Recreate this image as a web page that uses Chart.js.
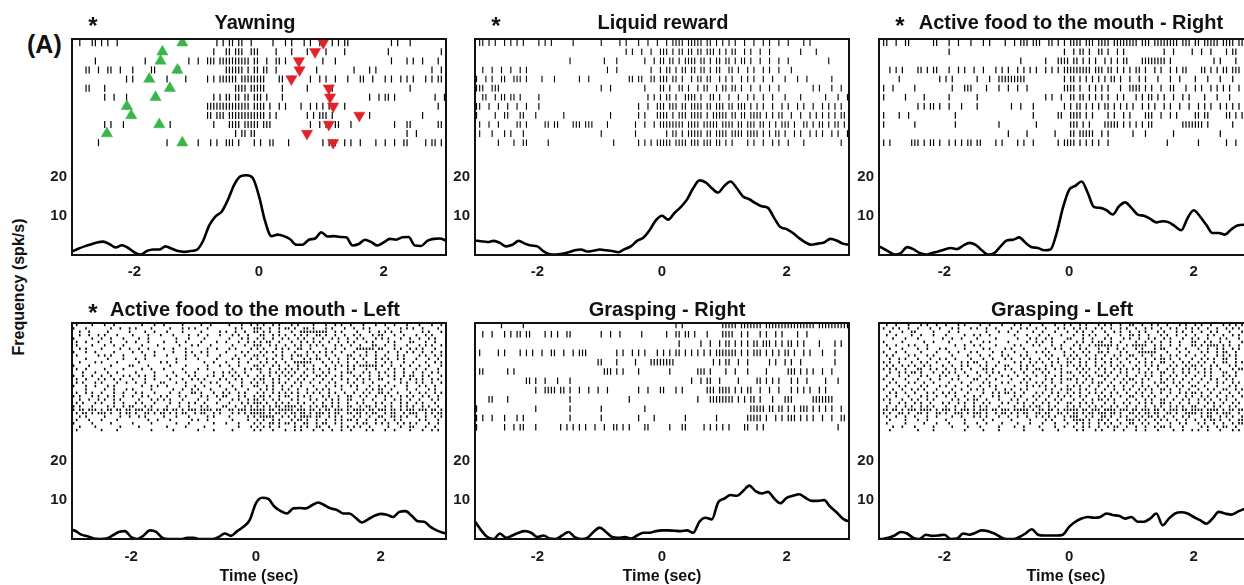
<!DOCTYPE html>
<html>
<head>
<meta charset="utf-8">
<script src="https://cdn.jsdelivr.net/npm/chart.js@4.4.1/dist/chart.umd.min.js"></script>
<style>
  html, body { margin: 0; padding: 0; background: #fff; width: 1244px; height: 585px; overflow: hidden; }
  #fig { position: relative; width: 1244px; height: 585px; overflow: hidden;
         font-family: "Liberation Sans", Arial, sans-serif; color: #111; }
  .panel { position: absolute; }
  .lbl { position: absolute; font-weight: bold; white-space: nowrap; }
</style>
</head>
<body>
<div id="fig">
  <div class="lbl" style="left:27px;top:32px;font-size:25px;line-height:25px;">(A)</div>
  <div class="lbl" style="left:-81px;top:277px;width:200px;height:20px;line-height:20px;font-size:16px;text-align:center;transform:rotate(-90deg);">Frequency (spk/s)</div>
</div>
<script>
// ---- data ----
const panelTitles = ['Yawning', 'Liquid reward', 'Active food to the mouth - Right',
                     'Active food to the mouth - Left', 'Grasping - Right', 'Grasping - Left'];
const panelStars = [true, true, true, true, false, false];
const xTickValues = [-2, 0, 2];
const yTickValues = [10, 20];

// PSTH sample times (s)
const rateTimes = [-3.1, -3.0, -2.9, -2.8, -2.7, -2.6, -2.5, -2.4, -2.3, -2.2, -2.1,
  -2.0, -1.9, -1.8, -1.7, -1.6, -1.5, -1.4, -1.3, -1.2, -1.1,
  -1.0, -0.9, -0.8, -0.7, -0.6, -0.5, -0.4, -0.3, -0.2, -0.1,
  0.0, 0.1, 0.2, 0.3, 0.4, 0.5, 0.6, 0.7, 0.8, 0.9,
  1.0, 1.1, 1.2, 1.3, 1.4, 1.5, 1.6, 1.7, 1.8, 1.9,
  2.0, 2.1, 2.2, 2.3, 2.4, 2.5, 2.6, 2.7, 2.8, 2.9, 3.0, 3.1];

// firing rate (spk/s)
const yawnRate = [0.6, 0.9, 1.6, 2.2, 2.7, 3.2, 3.4, 2.8, 1.9, 2.5, 1.8,
  0.7, 0.1, 1.0, 1.4, 1.4, 2.2, 1.6, 1.0, 0.8, 1.0,
  1.3, 3.5, 7.5, 9.8, 11.0, 14.0, 17.8, 20.0, 20.3, 19.6,
  15.0, 8.5, 4.8, 5.2, 4.8, 4.0, 2.6, 2.6, 3.9, 4.2,
  5.8, 4.7, 4.8, 4.6, 4.5, 2.4, 2.8, 3.9, 3.3, 2.4,
  3.2, 4.1, 3.9, 4.5, 4.6, 2.4, 2.3, 3.6, 4.1, 4.2, 3.7, 3.5];
const liquidRate = [3.8, 3.7, 3.5, 3.3, 3.6, 3.1, 2.2, 2.6, 3.6, 2.9, 2.4,
  2.2, 0.9, 0.2, 0.1, 0.3, 0.7, 1.2, 1.4, 0.9, 1.1,
  1.4, 1.2, 1.0, 0.7, 1.5, 2.2, 3.6, 4.4, 6.3, 8.8,
  10.0, 9.0, 10.7, 12.2, 14.1, 17.0, 19.0, 18.5, 17.0, 15.9,
  17.6, 18.7, 17.0, 14.9, 14.2, 13.2, 12.4, 12.0, 9.4, 7.1,
  6.6, 5.6, 4.3, 3.2, 2.6, 2.9, 3.2, 4.1, 3.7, 2.9, 2.6, 2.4];
const activeRRate = [2.6, 1.8, 0.9, 0.1, 0.5, 2.0, 1.5, 0.5, 0.1, 0.5, 0.9,
  1.4, 1.8, 1.5, 2.4, 3.1, 2.6, 1.2, 0.1, 0.5, 2.2,
  3.7, 3.9, 4.5, 3.1, 2.0, 1.8, 1.2, 1.4, 5.6, 12.0,
  16.6, 17.6, 18.7, 15.8, 12.2, 12.0, 11.4, 10.3, 12.4, 13.4,
  12.0, 10.3, 10.0, 9.2, 8.3, 8.6, 8.3, 7.3, 6.3, 9.4,
  11.4, 9.8, 7.7, 5.6, 5.6, 5.2, 6.5, 7.5, 7.7, 7.4, 7.2, 7.0];
const activeLRate = [2.8, 2.5, 2.1, 1.1, 0.7, 0.1, 0.0, 0.1, 0.9, 1.8, 2.0,
  0.5, 0.0, 0.9, 2.2, 1.8, 0.3, 0.0, 0.0, 0.0, 0.3,
  0.3, 0.0, 0.0, 0.0, 0.5, 1.4, 0.8, 2.0, 3.1, 4.8,
  9.1, 10.5, 10.2, 8.2, 7.1, 6.5, 7.8, 7.9, 7.8, 8.6,
  9.3, 8.6, 7.8, 7.4, 6.5, 6.5, 5.4, 4.2, 5.0, 5.9,
  6.4, 6.2, 5.6, 6.9, 7.1, 5.9, 4.5, 4.4, 3.1, 2.2, 1.6, 1.3];
const graspRRate = [5.5, 4.4, 2.2, 0.5, 0.0, 1.4, 0.3, 0.9, 1.6, 2.0, 1.6,
  0.5, 0.9, 0.1, 0.0, 0.9, 1.8, 0.5, 0.0, 0.3, 1.8,
  2.9, 1.8, 0.5, 0.3, 0.5, 0.1, 0.9, 1.6, 1.6, 2.0,
  2.2, 2.2, 2.1, 2.0, 2.2, 1.6, 4.4, 5.4, 5.0, 9.3,
  10.3, 11.2, 11.0, 12.2, 13.6, 12.2, 11.6, 12.0, 10.3, 9.1,
  10.5, 11.0, 11.4, 10.5, 9.7, 9.7, 9.9, 8.2, 6.8, 5.2, 4.5, 4.4];
const graspLRate = [0.0, 0.0, 0.3, 0.9, 1.8, 1.4, 0.3, 0.0, 1.1, 0.8, 0.9,
  1.1, 0.0, 0.1, 1.4, 1.1, 1.6, 2.2, 2.0, 1.4, 0.5,
  0.0, 0.0, 0.5, 1.4, 2.5, 1.1, 0.9, 0.9, 0.9, 1.1,
  3.1, 4.4, 5.2, 5.6, 5.4, 5.6, 6.5, 6.1, 5.9, 5.2,
  5.6, 4.4, 4.4, 5.2, 6.5, 3.5, 5.2, 6.5, 6.8, 6.5,
  5.6, 4.8, 3.9, 5.2, 6.9, 6.5, 6.2, 6.9, 7.6, 7.8, 7.5, 7.4];

// rasters: one string per trial, 50 ms bins from -3 s, groups of 10 bins, '|' = spike
const rasterStart = -3, binSec = 0.05;
const yawnRaster = [
  "..|...||.| .|..|..... .......... .......... ......|.|. ||.||..|.. ....|...|. |...|.|..| ...|.|.||. .......... ..|.|...|. ..........",
  ".......... .......... .......... .......... .....|...| |.|||..||| .....|.... |....|.... .|.....|.. .......... .|........ ........|.",
  ".......|.. .......... ...|...... .......|.. |..|||.||| |||||||.|| ..|..||.|. .......... |...|..... .......... ..|....|.| ..|....|..",
  "....||..|. .||..|...| .....||... ...||..... .........| |||||.|.|| .||..|.... ........|. .......... |....|.|.. .......... .....|..|.",
  ".......... .......|.| .......... |.....|... ...|.|.||| |||.|||||| ||....||.. |.....|..| .|..|...|. ..||..|... |.|..|.|.| ...|.|.||.",
  "....||.... |......... .......... .......... .......... ..||||.||| ||.....|.. .....|.... ...|...... .......... ........|. ..........",
  ".......... |..|...|.. .......... .......... .....|.|.| |.||.||.|| |.|....|.. .......... .......... .....|..|. ||.|...... ......|..|",
  ".......... .......|.. .......... .......... ...||||||| |||||||.|| ||.|..|.|. ...|..|.|. |.||...|.. .......... .......... .......|..",
  ".......... .......... .......... .......... ...||.|||. |||||||||| ||.|.|.... .....|.|.| ||.|...... .....|.... .......... ..|.......",
  ".......... |.|...|... .......... .|........ .....|.... ||||.||||| .|||...... ......|..| .|..||...| .......... ...|...||. .......||.",
  ".......... .......... .......... .......... .......... ..|.||.||. .......... .......... .......... .......... .......|.. |.........",
  "........|. .......... .......... |......... |...|.|..| ||.|....|. |..||....| .......... |.|||..|.| ..|....|.. |..|..||.. ...|.||.|."
];
// yawning onset (green) and end (red) per trial, s
const yawnOpenTimes = [-1.23, -1.55, -1.58, -1.31, -1.76, -1.43, -1.66, -2.12, -2.05, -1.60, -2.44, -1.23];
const yawnCloseTimes = [1.03, 0.90, 0.64, 0.65, 0.52, 1.12, 1.14, 1.19, 1.61, 1.12, 0.77, 1.19];

const liquidRaster = [
  ".||.|.|..| .|.|.|.... |.|.|..... .|........ |.....|.|. ..|..|..|. .|.||||.|| |||.||.|.| .|.|..|..| ..|.|..|.. |....|.|.. ..........",
  ".......... .......... .......... .......... ........|. |..|..|..| ||.|.||.|| .||.|||.|. |.||..|.|. .|..|..... ....|....| ..........",
  ".......... .......... .......... |......... .|...|.... ....|..|.| |.||.|.||| |.||.|.||. ||.|.||.|. .|..|..|.. |......... ...|......",
  "..|..|..|. .|..|.|... .......... .......... ..|..|.... ......|..| .||.|.||.| |.||.|.||. .||.|..|.| ..|.|..|.. .|........ ..........",
  "|..|.|..|| ..|||.|... .|...|.... ...|..|... .........| |.||..||.| ||.||.|..| .||.||..|. |.|..|.|.| ..|..|...| ...|..|... ....|.....",
  "|||..|||.. .......... .......... .......... |..|...... ....|....| |.|..||.|. .|.||..|.| |.||.|..|. .|..|..|.. ........|. |...|..|..",
  "..||..|.|| .||.|..... |......... .......... .......... .....|.|.| .||.|..||| |.|..||.|. .|..|..|.| ..|..|...| ....|..... ..|...|..|",
  "||..|..|.. |..|..|... |......... .......... .......... ..|..|..|| |.|||.||.| |||.||.||| .||.|||.|. |.|..|..|. |..|.|..|. .|.|.|.|..",
  "|.....|..| |...||...| ........|. .......... ...|...... ..|.|...|| ||.|.|||.| |||.|.|||| |.||.||.|| ||.|.|.||. .|..|..|.| .|.|.|.||.",
  ".|..|..|.. ...||.|... ..||.||... .|||.|||.. ..|....... .|..|..|.| |||||||.|| ||.|||||.| |||.||.||| .||.|.|.|| |.|..||.|. ||.|.||.|.",
  ".|...|...| .|...|.... .......... .......... |......... .|........ .|.||.|.|| |||.||.||| |.||||.||| |.|.|.||.| ..|.|..|.| .|..|.|..|",
  ".......|.. ..|..||... ...|...... .......... ....|..... ..|.|.|.|| |||.||||.| ||.|||.||. |.|....|.| ..|..|.|.. |....|.... .......|.."
];
const activeRRaster = [
  "||..|..||. ......||.. .|..|...|. ..|.|....| ..|.|||.|| |..||.|.|. ||||.|||.| |||.|||||| ||.|||.||| |||||.|||. ||.|||||.| |||.||||||",
  ".......... .......... .|........ .......... .......... ........|. .|.||.|..| |.|..|.|.. .......... |..|.....| ..|..|.... |.||..|...",
  ".......... .......... .......... .......... ....|..... ..|...|||| .||.|.|.|. .|.|.|.||. ...||||||| |.|....... ......|.|. ...|......",
  "..|.|.|... .||.|.||.. .|..|.|..| ..|...|.|. |..|.|.|.| ..|.|.|.|| |||||||.|| |.||.|.|.| .||.|..|.| ..|.|.||.. ..||.|.|.| |.|||.|.||",
  ".....|.... ........|. |.|....... |...|..||| ||||||.... ........|. ||.|.|.|.| .|.||.|..| ..|.|...|. ..|..|.... |...|...|. ..|...|.|.",
  "|..|...... |......... ..|...|||. ...|...|.. |..|..|... ........|| ||.|..|.|. |.|...|..| |||.|.|..| ..||...|.. |.|..|.|.| .|..|..|..",
  "|......|.. ...|...... .|........ |......... .......... ..|.|..|.. ||.||.|.|. |.|..|.|.. .|.|.||.|. |..|..|.|. ...|...|.. .|....|...",
  ".......... .|.|.||.|. .|...|.... |......... .|..|...|. ........|. |.||.|.|.| .||.|.|.|. |..|.|.|.. |.|..|..|. .|.|.|..|. |.|.|.|.|.",
  "|....|..|. .......... ...|...... .......... ........|. ......||.. ||||.|.|.. ..|.|..|.| ....|||..| ..|.|..... ||.||..... ||.|.|.|..",
  "|......... |......... ...|...... .......|.. .........| .......... |||.|.|... .|||||.|.| .|.|.||... ......|||| |||.|..... ..|....|..",
  ".......... .......... .......... .......... |.....|... .....|.... ||.|||||.. |.|....... |...|..... ...|...... ........|. ..........",
  "|.|......| ||.|.||.|. .|.|.|.||. ||....|.|. ...|.|..|. ......|.|| ||.|.|.|.| ..|....... .......... .|........ .|........ |..|......"
];
const activeLRaster = [
  "..|....|.. .|..|..... ...|...|.. |.....|... ..|..|.... .|...|..|. |.|..|.|.. .|.|....|. ..|..|.|.. |...|...|. .|..|...|. ..|...|..|",
  ".|...|.... ...|..|..| .|....|... ..|...|.|. |...|..... ...|.|...| ||..|..|.| |.|..||.|. ..|.|...|. .|..|.|... ..|...|.|. |..|....|.",
  "|..|..|... ..|......| ....|..|.. .|....|... ..|.....|. |..|..|..| |.|.|..|.. .|..|||||| |||..|.|.. ..|...|..| .|.|..|... ...|.|...|",
  "...|..|..| .|...|.... |....|...| ...|....|. .|..|...|. ..|.|..|.. .||..|.|.| ..|.|.|..| |.|..|..|. .|.|...|.| |...|..|.. .|..|.|...",
  ".|.....|.. |..|...|.. ..|..|.... ....|...|. ...|...... .|...|.|.. |.|..|..|. |..|.|..|. .|..|.|..| ..|.|...|. |.|...|..| ..|..|.|..",
  "..|..|...| ...|....|. .|...|.... |...|..|.. ..|....|.. |...|..|.| .|.||..|.. .|..|.|.|. |..|..|..| .|...|.|.. ..|.|....| |...|..|..",
  "|.|....|.. .|..|..|.. ...|....|. .....|...| .|...|.... ..|...|..| ||..|.|..| ..|.|..|.| .|...|.|.. |..|...||. .|..|...|. ..|.|.|..|",
  "...|.|.... |.....|..| ..|..|.... |..|...|.. ....|..|.. .|.|....|. |.|...|.|. |..||..|.. ..|..|..|. ..||||||.| |...|.|..| .|.|...|..",
  ".|...|..|. ....|..... |..|...|.. ...|...|.| ..|.|..... |....|.|.. .|.|.|..|. ..|...|.|. |.|.|..|.. .|...|..|. ..|..|..|. |..|..|..|",
  "..|......| .|.|...|.. ....|..|.. .|.....|.. |...|...|. ...|..|..| |.|...|.|. .|.||.|..| ..|..|...| |..|.|..|. .|...|.|.. ..|.|..|.|",
  "|....|.... ..|....|.. .|..|..... ....|..|.. .|.....|.. ..|.|...|. |..|.|..|. .|...|.|.| |..|..|..| .|..|...|. |.|..|.|.. .|...|..|.",
  "...|....|. |....|.... ..|......| .|..|..... ...|..|... |...|..|.. .|.|..|..| ..||||||.. .|..|.|..| ..|..|..|. .|.|...|.. |...|..|.|",
  ".|....|... ...|.....| |....|.... ..|....|.. ....|...|. .|..|....| |.|..|.|.. |..|.|..|. ..|..|.|.| .|.||||||. |..|..|..| ..|..|...|",
  "..|..|.... .|.....|.. ...|..|... |.....|... .|..|..... ..|...|.|. ||..|..|.| .|.|..|.|. |..|.|...| .|...|..|. ..|.|..|.. .|..|...|.",
  "|...|...|. ..|..|.... .|.....|.. ...|...|.. |.....|..| .|.|..|... .|..|.|.|. |.|..|..|. .|.|...|.| |...|.|..| .|..|..|.. |..|..|.|.",
  ".|..|..|.. |..|...|.| ..|.|..|.. .|..|...|. |...|.|..| ..|.|..|.. |.|.|..|.| .|..|.|..| |.|..|.|.. .|.|..|..| ..|.|..|.| |..|.|...|",
  "|.|..|...| .|..|.|... |...|..|.. ..|...|..| .|.|....|. |..|.|...| .||..|.|.. |..|.|..|. .|..|..|.| ..|.|.|..| |...|.|..| .|.|..|.|.",
  "..|.|...|. |....|..|. .|..|....| |...|..|.. ..|..|.|.. .|...|..|. |.|..|.|.| ..|.|..|.. |..|.|...| .|..|..|.. ..|...|.|. .|.|..|..|",
  ".|...|..|. ..|.|..... ...|..|.|. .|.....|.. |..|....|. ..|..|...| |..|.|..|. .|..|...|. ..|..|.|.. |.|...|..| .|..|...|. ..|.|..|..",
  "|....|.... .|..|...|. |.....|... ...|..|..| .|...|.... |..|...|.. .|.|.|..|. |..|..|..| .|.|...|.. ..|..|.|.| |..|....|. .|...|.|..",
  "..|..|.|.. |...|..|.. .|.|...|.. ..|..|...| |.|...|..| .|..|.|... |.|..|.|.| .|.|..|.|. |..|.|..|. .|..|.|..| |.|..|...| ..|.|..|.|",
  ".|.|...|.| ..|.|..|.. |..|.|...| .|...|.|.. ..|.|..|.| |...|.|..| .||.|..|.| |..|.|.|.. .|.|..|..| |..|.|..|. .|.|..|.|. |..|.|..|.",
  "|..|..|..| .|..|.|... ..|...|.|. |.|...|... .|..|...|. ..|.|..|.| |.|..|.|.. .|.|...|.| ..|.|.|..| |...|..|.. .|..|.|..| ..|...|.|.",
  "..|.|...|. |...|..|.. .|.|...|.. ..|..|..|. |..|...|.. .|...|.|.| ||.|..|.|. |..|.|..|. .|..|.|..| ..|.|...|. |..|..|.|. .|.|...|..",
  ".|.|...|.. ..|.|..|.| |...|.|... .|...|..|. ..|.|....| |..|..|.|. |.|.|.||.| |||.|..|.| .||.|.|..| |..|.||.|. .|.|..|.|. |..|.|..|.",
  "||.||.|||. |.||.||.|| .|||.||.|. ||.||.|.|| |.||||.||. .||.|||.|| |||.||.||| ||.|||.||. |.||.|||.| .||||.||.| ||.||.|.|| |.|||.||.|",
  "|.|.||.|.| ||.|..|.|| .|..||.|.| |.|.|.||.. |.||..|.|. ..|.|.|.|| |||.|.||.| .||.||.|.| ||.|.||..| |.||.|.||. .|.||..|.| ||..|.|.||",
  "|..|.|.... .|....|..| ..|.|..... |...|...|. ....|.|... .|.....|.| .|||||..|. |.|.||||.| |..|.|.|.. .|.|..|..| |..||.|.|. .|..|..|.|",
  "..|...|... |....|.... .....|..|. ..|......| .|..|..... ..|....|.. |.|..|.|.. .|.||.|..| ..|..|.|.| |.|..|..|. .|..|.|... ..|.|...|.",
  ".|.....|.. ...|...... |.....|... ....|...|. ......|... |...|....| .|..||.|.| |.|..||..| .||..|.|.. ..|.||..|. |.|..|.|.| .|...|..|.",
  "...|....|. ......|... ..|....... .|.....|.. ...|...... ....|...|. |.|.|..|.. ..|.|.|..| |..|...|.| .|.|..|... ..|...|..| |...|..|..",
  "..|....... |....|.... ......|... ...|...... .|....|... ..|......| .|...|...| ..|.|...|. .|..|..|.. |....|.|.. .|..|....| ...|..|.|."
];
const graspRRaster = [
  "........|. .....|.... .......... .......... .......... .......... ....|.|... .........| ||||.||||| ||.||||||| |||||||||. ||||||||||",
  "..|..|...| .|.||.||.. ..|.|.|..| |......... |..|..|... ...|...... .|..||.||. |...|....| |||..|.|.. .|.|..|.|. ...|..|... ..........",
  ".......... .......... .......... .......... .......... .......... .....|.... ..|..|..|. ||.|.|.|.| |.|||.|.|. ||.|.|.... |....|.|..",
  ".|.....|.| ....|.|.|. .|..||..|. .|.|||.... .....|.|.. |.|.|...|. |.|.||.|.| .|.|.|.||| ||||.|.|.| ||.|.|.|.| |.|..|.|.. .|...|....",
  ".......... .......... .......... .........| |....|.... .|....|||| ||||...... ......|.|. ||..|..|.. ....|.|..| .|..|..... .....|....",
  ".||....... |.|....... .......... .......... .|||.|.|.. ..|....... ..|....... .|||.|.... |..|...|.. ...|...... |||.|.|.|. .|..|.....",
  ".......... ......||.| ..|...|... |......... .......... .......... .........| ..|.||..|. ....|..... ||.|.|.|.. .|.|..|... ..|...|...",
  ".......... .........| ..||||.||. |..|..|..| ..|....... ..|..|...| |...|.|... ....|||.|| ||.|.|.||. .|..|..|.. .|.|.|.|.. |.|.......",
  "....||.... |......... .......... |......... .........| .......... .......... .|...||||| |||.|.|.|| .|...|...| ||......|| |||||.....",
  "|......... .........| .......... |......... |......... ....|..... .......... .......... ........|| |||.||.||. |.|.|||.|. |.|.|..|..",
  "|.|..|...| ...|.|.... .......... |......... |......... ..|....|.. .......|.. .......|.. .......||| ||.|..|.|. |||.|.|.|. .|..|..||.",
  "|........| ..|.||...| .......|.| .|.|.|..|. .|..||.|.| ....||.... ..|...||.. ...|.|.|.| .|....||.. |.|....... .......... ......|..."
];
const graspLRaster = [
  ".|..|...|. ..|.|..|.. |...|.|... .|..|...|. ..|.|..|.. .|...|..|. |..|.|...| .|.|..|..| |..|..|.|. .|...|.|.. |.|..|...| .|.|.|..|.",
  "|..|.|..|. .|...|..|. ..|.|...|. |..|..|... .|..|.|..| ..|...|.|. .|.|.|..|. |..|..|.|. .|..|.|..| ..|.|..|.| .|..|..|.. |.|.|...|.",
  "..|...|..| |.....|... .|..|..... ...|...|.. |..|....|. .|...|...| ..|.|..|.. .|..|.|..| ..|.|...|. |...|.|..| ..|..|.|.. .|...|..|.",
  ".|..|....| ..|...|... |.....|..| .|..|..... ..|...|... |..|...|.. .|..|.|.|. ..|...|..| |.|..|...| .|..|..|.. |...|.|..| ..|.|...|.",
  "...|...|.. .|.......| ..|..|.... |.....|... ...|...|.| ..|.|....| |...|..|.. .|.|...|.| ..|..|.|.. |.|...|..| .|..|...|. |...|.|...",
  "|.....|... ...|..|... .|......|. ..|.|..... |.....|..| .|..|...|. ..|.|..|.| |..|..|... .|..|.|..| ..|..|...| |..|.|..|. .|...|..|.",
  ".|..|...|. |...|..... ...|..|..| .|....|... ..|.|...|. |...|..|.. .|.|..|.|| ||||.|..|. |||||..|.| ..|..|...| |.|.||||.| .|..|.|...",
  "..|...|... .|..|...|. |.....|... ..|.|....| .|...|.... ..|..|.|.. |..|.|...| ..|..|.|.. .|.|...|.| |...|..|.. .|..|..|.| ..|.|...|.",
  "|...|..|.. ..|....|.. .|..|...|. |....|..|. ..|...|..| .|.|....|. .|..|.|..| |.|...|.|. ..||||||.. .|...|..|. ..|.|..|.| |..|...|..",
  ".|.|....|. |...|.|... ..|....|.. .|..|...|. |...|.|... ..|.|...|. |.|..|..|. .|..|.|..| |..|..|..| ..|.|..|.. |..|...|.| .|.|..|...",
  "..|..|.|.. .|...|..|. |..|....|. ..|..|...| .|...|.|.. |..|..|..| .|.|..|.|. |..|.|..|. .|..|..|.| |.|..|...| ..|.|.|..| |..|..|.|.",
  "|.|..|...| ..|.|..|.. .|...|.|.| |..|...|.. ..|.|..|.| .|..|.|..| |..|.|..|. .|.|..|..| ..|.|.|..| |..|..|.|. .|.|..|..| |..|.|...|",
  ".|.|..|.|. |..|.|...| ..|..|.|.. .|.|..|..| |...|.|.|. ..|.|..|.| .|.|.|..|. |..|.|.|.. .|..|.|.|. ..|.|..|.| |.|..|.|.. .|.|...|.|",
  "|.|.|..|.. .||..|.|.. |..|.|..|. ..||.|...| .|..|.|..| |.|..|.|.. ..|.|.|..| .|..|.|.|. |.|..|..|. .|.|..|.|. |..|.|..|. ..|.||..|.",
  "..|..|.|.| |.|...|..| .|.|..|... |..|.|.|.. ..|..|..|. .|.|...|.| |..|.|..|. .|.|..|.|. ..|.|.|..| |..|..|.|. .|.|.|...| |..|..|.|.",
  ".|...|..|. ..|.|...|. |...|..|.. .|..|...|. |..|..|..| ..|..|.|.. .|..|.|..| |.|..|..|. .|..|.|..| ..|.|..|.. |..|.|...| .|.|..|..|",
  "|..|...|.. .|...|..|. ..|.|....| |..|..|... .|...|.|.. ..|.|..|.| |.|..|.|.. .|..|..|.| |..|.|...| .|.|..|..| ..|..|.|.. |.|...|..|",
  "..|.|...|. |..|..|... .|...|..|. ..|.|...|. |...|.|..| .|..|..|.. ..|.|..|.| |..|..|.|. .|.|...|.| |..|.|..|. .|..|..|.| ..|.|.|...",
  ".|...|.|.. ..|.|...|. |..|...|.. .|..|.|... ..|...|.|. |.|..|...| .|.|..|..| ..|.|..|.. |..|.|..|. .|..|.|..| |..|...|.. .|.|..|.|.",
  "|..|..|..| .|.|...|.. ..|..|..|. |.|...|..| .|..|.|... ..|.|..|.| |..|.|..|. .|..|..|.| ..|.|.|..| |.|..|..|. .|..|.|..| |..|.|..|.",
  "..|.|..|.. |...|.|..| .|.|...|.. ..|..|.|.| |.|..|...| .|..|.|..| .|.|..|.|. |..|.|..|. .|.|..|..| ..|..|.|.| |.|..|..|. .|..|.|..|",
  ".|..|...|. ..|.|..|.. |..|..|..| .|...|.|.. ..|.|...|. |..|..|.|. |..|.|...| .|.|..|..| |..|.|.|.. .|..|..|.| ..|.|..|.. |.|..|.|..",
  "|.|...|..| .|..|.|... ..|.|..|.| |..|...|.. .|.|..|..| ..|..|.|.. .|..|..|.| |.|.|...|. .|..|.|..| |..|..|.|. .|.|.|..|. |..|...|.|",
  "..|..|.|.. |.|..|...| .|..|.|..| ..|.|...|. |..|.|..|. .|.|..|..| |..|.|.|.. .|..|..|.| ..|.|.|..| |.|..|..|. .|..|.|..| ..|.|..|..",
  ".|..|..|.| ..|.|.|... |..|..|..| .|.|...|.. ..|..|.|.| |..|.|...| .|.|..|.|. |..|.|..|. .|..|..|.| ..|.|.|..| |..|..|.|. .|.|..|..|",
  "||.||.|.|| |.||||.|.| ||.|.|||.| .|||.||.|| |.|||||.|. ||.||.|.|| |||.||.||| .||||.|||. ||.|||.||. |.|||.||.| |||.||||.| .||.|||.||",
  "|.|..||.|. .||.|..||. |..|||.|.| ||.|..|.|| .|.|.||..| |.||..||.| .||.|.||.| ||.||.|..| |.|.||.||. .||.|..||| |.|.||.|.| ||..|.||.|",
  ".|..|..|.. |...|..|.. ..|..|...| .|.|...|.. |..|..|..| .|.|.|..|. |||..|.|.. ||.|..|.|. .|.|.||.|. |..|..|.|. ..|.||..|. |.|..|.||.",
  "..|....|.. .|..|..... |.....|... ..|..|.... .|.....|.. ..|.|...|. .||||.|..| |.|..|..|| |.|.|..|.| .|..|..|.. |..|.||.|. .|..||.|.|",
  ".|.....|.. ...|...|.. .|....|... |..|....|. ...|...|.. .|...|...| ..|.|.|..| .|.|..|..| |..|.|..|. ..|..|.|.. .|.|..|..| ..|.||..|.",
  "...|..|... |.....|... ..|....|.. .|.....|.. ..|..|.... |....|..|. .|..|.|..| ..|.||..|. .|..|..|.| |.|...|... ..|.|..|.| |..|..|.|.",
  "..|....... .|....|... ......|... ..|....|.. .....|.... .|....|... ..|.|...|. |...|..|.. .|..|...|. ...|..|..| .|..|...|. ..|.|.|..|"
];

// ---- layout ----
const axisW = 40, boxW = 374;
const colLeft = [72, 475, 879];
const rowTop = [0, 284];
const rowHeight = [285, 301];
const xAxisH = [30, 46];
const titlePad = [{top: 11, bottom: 4}, {top: 14, bottom: 1}];
const xTickPad = [7.5, 8.5];
const areaH = 216;
const green = '#3ab54a', red = '#e2222a';
const fontFamily = '"Liberation Sans", Arial, sans-serif';

Chart.defaults.font.family = fontFamily;
Chart.defaults.color = '#1a1a1a';

const panels = [
  {row: 0, col: 0, raster: yawnRaster, rate: yawnRate, xMin: -3, xMax: 3, shift: -4, first: 3.7, gap: 9.09, tick: 3.5, tickW: 1.2, markers: true},
  {row: 0, col: 1, raster: liquidRaster, rate: liquidRate, xMin: -3, xMax: 3, shift: 1, first: 3.7, gap: 9.09, tick: 3.3, tickW: 1.1},
  {row: 0, col: 2, raster: activeRRaster, rate: activeRRate, xMin: -3.05, xMax: 2.95, shift: 5, first: 3.7, gap: 9.09, tick: 3.3, tickW: 1.2},
  {row: 1, col: 0, raster: activeLRaster, rate: activeLRate, xMin: -2.95, xMax: 3.05, shift: -4, first: 2, gap: 3.39, tick: 1.2, tickW: 1.6},
  {row: 1, col: 1, raster: graspRRaster, rate: graspRRate, xMin: -3, xMax: 3, shift: 5, first: 2, gap: 9.3, tick: 3.3, tickW: 1.2},
  {row: 1, col: 2, raster: graspLRaster, rate: graspLRate, xMin: -3.05, xMax: 2.95, shift: -4, first: 2, gap: 3.39, tick: 1.2, tickW: 1.6}
];

function spikesOf(rows) {
  const pts = [];
  rows.forEach((row, trial) => {
    row.split(' ').forEach((seg, k) => {
      for (let j = 0; j < seg.length; j++) {
        if (seg[j] === '|') pts.push({x: rasterStart + (k * 10 + j + 0.5) * binSec, y: trial});
      }
    });
  });
  return pts;
}

// black frame round the plot area
const boxBorder = {
  id: 'boxBorder',
  afterDatasetsDraw(chart) {
    const {ctx, chartArea: a} = chart;
    ctx.save();
    ctx.strokeStyle = '#111';
    ctx.lineWidth = 2;
    ctx.strokeRect(a.left, a.top, a.right - a.left, a.bottom - a.top);
    ctx.restore();
  }
};

const fig = document.getElementById('fig');
const tickFont = {size: 15, weight: 'bold'};

panels.forEach((p, idx) => {
  const rightW = axisW + 2 * p.shift;
  const width = axisW + boxW + rightW;
  const wrap = document.createElement('div');
  wrap.className = 'panel';
  wrap.style.left = (colLeft[p.col] - axisW) + 'px';
  wrap.style.top = rowTop[p.row] + 'px';
  const canvas = document.createElement('canvas');
  canvas.width = width;
  canvas.height = rowHeight[p.row];
  wrap.appendChild(canvas);
  fig.appendChild(wrap);

  if (panelStars[idx]) {
    const s = document.createElement('div');
    s.className = 'lbl';
    s.textContent = '*';
    s.style.cssText += 'font-size:24px;line-height:24px;width:20px;text-align:center;';
    s.style.left = (colLeft[p.col] + 21 - 10) + 'px';
    s.style.top = ((p.row === 0 ? 20 : 307) - 6) + 'px';
    fig.appendChild(s);
  }

  const datasets = [];
  if (p.markers) {
    datasets.push({
      data: yawnOpenTimes.map((t, i) => ({x: t, y: i})),
      pointStyle: 'triangle', pointRadius: 6.5, backgroundColor: green, borderColor: green,
      borderWidth: 0.5, yAxisID: 'trial'
    });
    datasets.push({
      data: yawnCloseTimes.map((t, i) => ({x: t, y: i})),
      pointStyle: 'triangle', rotation: 180, pointRadius: 6.5, backgroundColor: red, borderColor: red,
      borderWidth: 0.5, yAxisID: 'trial'
    });
  }
  datasets.push({
    data: rateTimes.map((t, i) => ({x: t, y: p.rate[i]})),
    showLine: true, borderColor: '#000', borderWidth: 2.6, pointRadius: 0,
    cubicInterpolationMode: 'monotone', yAxisID: 'y'
  });
  datasets.push({
    data: spikesOf(p.raster),
    pointStyle: 'line', rotation: 90, pointRadius: p.tick, borderColor: '#000',
    borderWidth: p.tickW, yAxisID: 'trial'
  });

  new Chart(canvas, {
    type: 'scatter',
    data: {datasets},
    plugins: [boxBorder],
    options: {
      responsive: false,
      animation: false,
      events: [],
      layout: {padding: 0, autoPadding: false},
      plugins: {
        legend: {display: false},
        tooltip: {enabled: false},
        title: {
          display: true, text: panelTitles[idx], color: '#111',
          font: {size: 20, weight: 'bold'}, padding: titlePad[p.row]
        }
      },
      scales: {
        x: {
          type: 'linear', min: p.xMin, max: p.xMax,
          afterBuildTicks: ax => { ax.ticks = xTickValues.map(v => ({value: v})); },
          afterFit: ax => { ax.height = xAxisH[p.row]; },
          ticks: {font: tickFont, padding: xTickPad[p.row], maxRotation: 0, callback: v => String(v)},
          grid: {display: false, drawTicks: false},
          border: {display: false},
          title: {
            display: p.row === 1, text: 'Time (sec)', color: '#111',
            font: {size: 16, weight: 'bold', lineHeight: 1}, padding: {top: 0, bottom: 0}
          }
        },
        y: {
          type: 'linear', position: 'left', min: 0, max: 55,
          afterBuildTicks: ax => { ax.ticks = yTickValues.map(v => ({value: v})); },
          afterFit: ax => { ax.width = axisW; },
          ticks: {font: tickFont, padding: 5, callback: v => String(v)},
          grid: {display: false, drawTicks: false},
          border: {display: false}
        },
        trial: {
          type: 'linear', position: 'right', reverse: true,
          min: -p.first / p.gap, max: (areaH - p.first) / p.gap,
          afterFit: ax => { ax.width = rightW; },
          ticks: {display: false},
          grid: {display: false, drawTicks: false},
          border: {display: false}
        }
      }
    }
  });
});
</script>
</body>
</html>
